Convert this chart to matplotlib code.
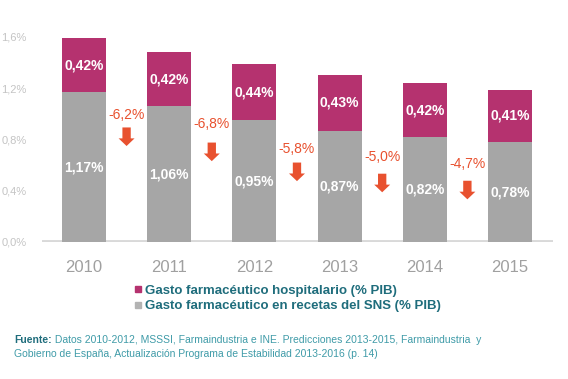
import matplotlib
matplotlib.use("Agg")
import matplotlib.pyplot as plt
from matplotlib.lines import Line2D

plt.rcParams["font.family"] = ["Liberation Sans", "DejaVu Sans"]

years = ["2010", "2011", "2012", "2013", "2014", "2015"]
recetas = [1.17, 1.06, 0.95, 0.87, 0.82, 0.78]
hospital = [0.42, 0.42, 0.44, 0.43, 0.42, 0.41]
changes = ["-6,2%", "-6,8%", "-5,8%", "-5,0%", "-4,7%"]
yticks = [0.0, 0.4, 0.8, 1.2, 1.6]

GRAY = "#a6a6a6"
MAGENTA = "#b5326f"
RED = "#e8512f"
TEAL_DARK = "#1f6d7c"
TEAL = "#3f9ba8"

# layout of the change arrows (label y, arrow top) in axis units
label_y = [0.988, 0.918, 0.729, 0.667, 0.612]
arrow_top = [0.894, 0.776, 0.620, 0.533, 0.478]
arrow_len = 0.145


def pct(v, nd=2):
    return f"{v:.{nd}f}".replace(".", ",") + "%"


fig = plt.figure(figsize=(5.68, 3.79), dpi=100)
ax = fig.add_axes([0.0739, 0.3615, 0.8997, 0.5409])

x = range(len(years))
ax.bar(x, recetas, width=0.516, color=GRAY, zorder=2)
ax.bar(x, hospital, width=0.516, bottom=recetas, color=MAGENTA, zorder=2)

for i, (r, h) in enumerate(zip(recetas, hospital)):
    ax.text(i, r / 2, pct(r), ha="center", va="center", color="white",
            fontsize=10, fontweight="bold", zorder=3)
    ax.text(i, r + h / 2, pct(h), ha="center", va="center", color="white",
            fontsize=10, fontweight="bold", zorder=3)

for i, (lab, ly, top) in enumerate(zip(changes, label_y, arrow_top)):
    xc = i + 0.5
    ax.text(xc, ly, lab, ha="center", va="center", color=RED, fontsize=10)
    ax.annotate("", xy=(xc, top - arrow_len), xytext=(xc, top),
                arrowprops=dict(arrowstyle="simple,head_length=0.55,head_width=1.15,tail_width=0.6",
                                mutation_scale=10, color=RED, shrinkA=0, shrinkB=0,
                                linewidth=0))

ax.axhline(0, color="#d9d9d9", linewidth=3.5, zorder=1)

ax.set_xlim(-0.493, 5.505)
ax.set_ylim(0, 1.6)
ax.set_xticks(list(x))
ax.set_xticklabels(years, fontsize=12, color="#a0a0a0")
ax.set_yticks(yticks)
ax.set_yticklabels([pct(v, 1) for v in yticks], fontsize=8, color="#c4c4c4")
ax.tick_params(axis="both", length=0)
ax.tick_params(axis="x", pad=13)
ax.tick_params(axis="y", pad=11)
for s in ax.spines.values():
    s.set_visible(False)

handles = [
    Line2D([], [], marker="s", linestyle="none", markersize=5, color=MAGENTA),
    Line2D([], [], marker="s", linestyle="none", markersize=5, color="#b3b3b3"),
]
labels = ["Gasto farmacéutico hospitalario (% PIB)",
          "Gasto farmacéutico en recetas del SNS (% PIB)"]
leg = fig.legend(handles, labels, loc="upper left", bbox_to_anchor=(0.236, 0.249),
                 frameon=False, handlelength=0.6, handletextpad=0.25,
                 labelspacing=0.25, borderaxespad=0, borderpad=0,
                 prop={"size": 9.5, "weight": "bold"})
for t in leg.get_texts():
    t.set_color(TEAL_DARK)

f1 = fig.text(0.025, 0.103, "Fuente:", fontsize=7.5, fontweight="bold",
              color=TEAL_DARK, va="center")
ax.annotate(" Datos 2010-2012, MSSSI, Farmaindustria e INE. Predicciones 2013-2015, "
            "Farmaindustria  y", xy=(1, 0), xycoords=f1, va="bottom", ha="left",
            fontsize=7.5, color=TEAL, annotation_clip=False)
fig.text(0.025, 0.066, "Gobierno de España, Actualización Programa de Estabilidad "
         "2013-2016 (p. 14)", fontsize=7.5, color=TEAL, va="center")

fig.savefig("out.png", dpi=100)
